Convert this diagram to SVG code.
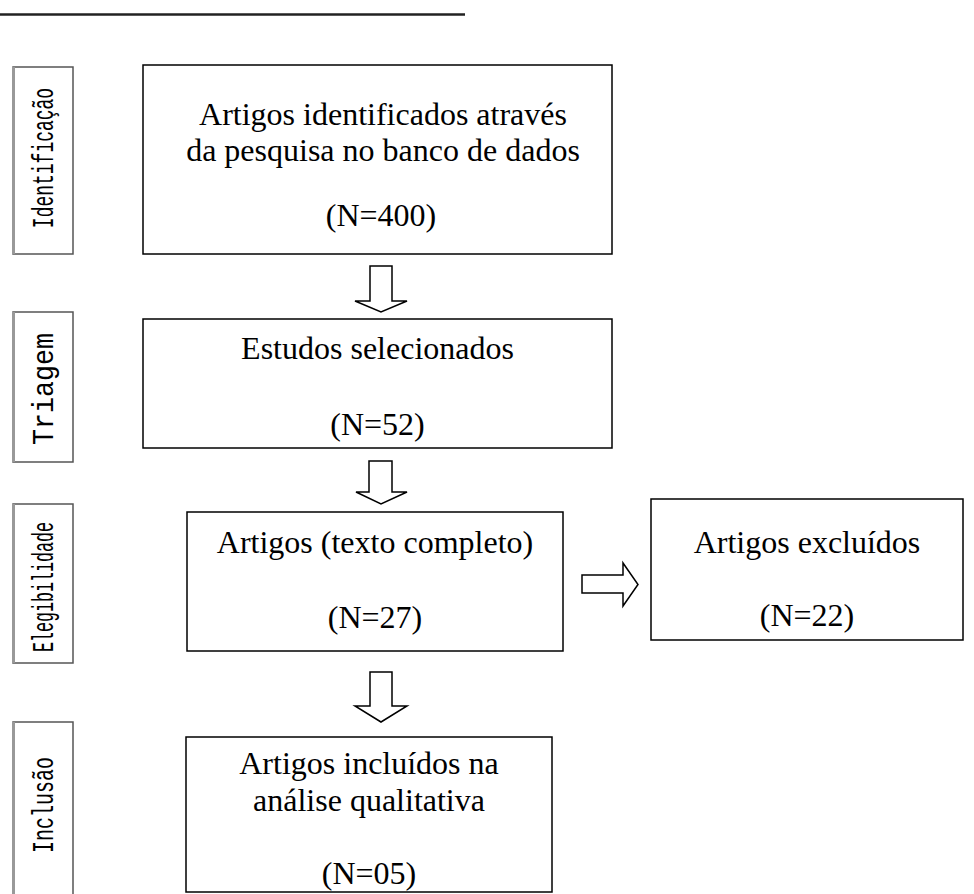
<svg xmlns="http://www.w3.org/2000/svg" width="974" height="894" viewBox="0 0 974 894">
<style>
.box{fill:#fff;stroke:#000;stroke-width:1.5}
.lbl{fill:#fff;stroke:#555;stroke-width:1.5}
.lblEdge{stroke:#999;stroke-width:3}
.t{font-family:"Liberation Serif","Times New Roman",serif;font-size:32px;fill:#000;text-anchor:middle}
.v{font-family:"Liberation Mono","Courier New",monospace;font-size:30px;fill:#000;text-anchor:middle}
.arr{fill:#fff;stroke:#000;stroke-width:1.5;stroke-linejoin:miter}
</style>
<rect width="974" height="894" fill="#fff"/>
<line x1="0" y1="14.5" x2="465" y2="14.5" stroke="#222" stroke-width="2.5"/>

<g id="label-identificacao">
<rect class="lbl" x="13" y="67" width="60" height="187"/>
<line class="lblEdge" x1="13.5" y1="67" x2="13.5" y2="254"/>
<text class="v" transform="translate(53,158) rotate(-90) scale(0.6,1)">Identificação</text>
</g>
<g id="label-triagem">
<rect class="lbl" x="13" y="312" width="60" height="150"/>
<line class="lblEdge" x1="13.5" y1="312" x2="13.5" y2="462"/>
<text class="v" transform="translate(53,389) rotate(-90) scale(0.889,1)">Triagem</text>
</g>
<g id="label-elegibilidade">
<rect class="lbl" x="13" y="504" width="60" height="159"/>
<line class="lblEdge" x1="13.5" y1="504" x2="13.5" y2="663"/>
<text class="v" transform="translate(53,587) rotate(-90) scale(0.556,1)">Elegibilidade</text>
</g>
<g id="label-inclusao">
<rect class="lbl" x="13" y="722" width="60" height="180"/>
<line class="lblEdge" x1="13.5" y1="722" x2="13.5" y2="894"/>
<text class="v" transform="translate(53,805) rotate(-90) scale(0.667,1)">Inclusão</text>
</g>

<g id="node-identificados">
<rect class="box" x="143" y="65" width="469" height="189"/>
<text class="t" x="383" y="125">Artigos identificados através</text>
<text class="t" x="383" y="161">da pesquisa no banco de dados</text>
<text class="t" x="381" y="226">(N=400)</text>
</g>
<g id="node-selecionados">
<rect class="box" x="143" y="319" width="469" height="129"/>
<text class="t" x="377.5" y="359">Estudos selecionados</text>
<text class="t" x="377.5" y="435">(N=52)</text>
</g>
<g id="node-texto-completo">
<rect class="box" x="187" y="512" width="376" height="139"/>
<text class="t" x="375" y="553">Artigos (texto completo)</text>
<text class="t" x="375" y="628">(N=27)</text>
</g>
<g id="node-excluidos">
<rect class="box" x="651" y="499" width="312" height="141"/>
<text class="t" x="807" y="553">Artigos excluídos</text>
<text class="t" x="807" y="626">(N=22)</text>
</g>
<g id="node-incluidos">
<rect class="box" x="186" y="737" width="366" height="155"/>
<text class="t" x="369" y="774">Artigos incluídos na</text>
<text class="t" x="369" y="811">análise qualitativa</text>
<text class="t" x="369" y="884">(N=05)</text>
</g>

<g id="connectors">
<polygon class="arr" points="370,266 392,266 392,301 407,301 381,312 355,301 370,301"/>
<polygon class="arr" points="369,461 392,461 392,492 407,492 381,504 356,492 369,492"/>
<polygon class="arr" points="370,672 392,672 392,706 407,706 381,722 355,706 370,706"/>
<polygon class="arr" points="582,575 623,575 623,563 638,584.5 623,606 623,593 582,593"/>
</g>
</svg>
